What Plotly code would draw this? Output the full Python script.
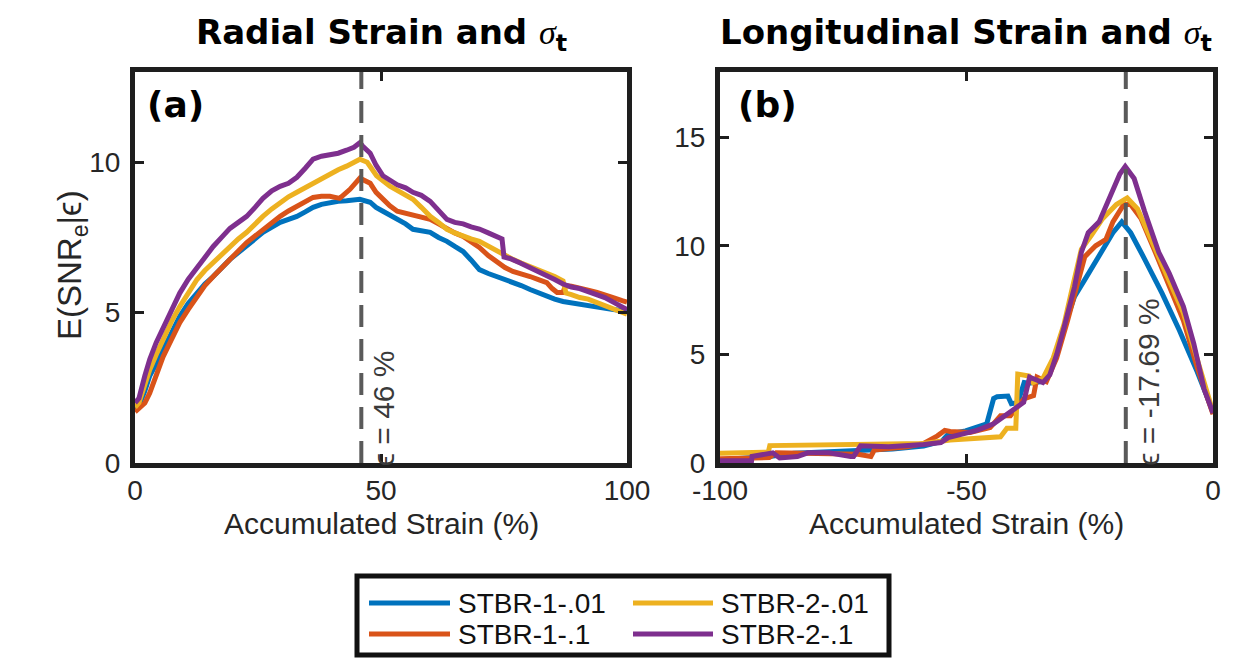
import plotly.graph_objects as go

# ---------------- data ----------------
series_names = ["STBR-1-.01", "STBR-1-.1", "STBR-2-.01", "STBR-2-.1"]
series_colors = ["#0072BD", "#D95319", "#EDB120", "#7E2F8E"]

# Panel (a): radial strain
rad_x_b1 = [0, 0.8, 2, 3, 4.3, 5.7, 7.4, 9.1, 10.8, 12.6, 14.2, 15.9, 17.6, 19.3, 21, 22.7, 24.4, 26, 27.8, 29.5,
            31.2, 32.9, 34.6, 36.2, 37.9, 39.6, 41.3, 43, 44.5, 45.7, 47.8, 49, 50.4, 51.8, 53.3, 55, 56.5, 58.2, 60,
            61.7, 63.4, 65, 66.7, 68.3, 70, 71.8, 73.6, 75.2, 76.8, 78.5, 80.3, 82, 83.7, 85.3, 87, 88.7, 90.4, 92.1,
            93.9, 95.5, 97.2, 99, 100]
rad_y_b1 = [1.8, 1.9, 2.4, 2.9, 3.3, 3.77, 4.35, 4.88, 5.3, 5.67, 5.95, 6.2, 6.5, 6.77, 7.0, 7.2, 7.45, 7.67, 7.85, 8.0,
            8.1, 8.2, 8.35, 8.5, 8.6, 8.67, 8.7, 8.72, 8.75, 8.77, 8.67, 8.5, 8.37, 8.25, 8.1, 7.95, 7.77, 7.72, 7.67,
            7.5, 7.37, 7.2, 7.03, 6.75, 6.43, 6.3, 6.2, 6.1, 6.03, 5.9, 5.77, 5.65, 5.53, 5.45, 5.37, 5.32, 5.27, 5.22,
            5.17, 5.13, 5.1, 5.07, 5.05]

rad_x_b2 = [0, 0.8, 2, 3, 4.3, 5.7, 7.4, 9.1, 10.8, 12.6, 14.2, 15.9, 17.6, 19.3, 21, 22.7, 24.4, 26, 27.8, 29.5,
            31.2, 32.9, 34.6, 36.2, 37.9, 39.6, 41.6, 43.7, 45.7, 47.8, 49, 50.4, 51.8, 53.3, 55, 56.5, 58.2, 60,
            61.7, 63.4, 65, 66.7, 68.3, 70, 71.8, 73.6, 75.2, 76.8, 78.5, 80.3, 82, 83.7, 84.8, 85.8, 87, 87.5, 88.7,
            90.4, 92.1, 93.9, 95.5, 97.2, 99, 100]
rad_y_b2 = [1.7, 1.8, 2.0, 2.33, 2.95, 3.53, 4.1, 4.67, 5.1, 5.53, 5.9, 6.2, 6.5, 6.77, 7.05, 7.33, 7.55, 7.77, 8.0, 8.2,
            8.38, 8.53, 8.7, 8.83, 8.87, 8.87, 8.8, 9.1, 9.47, 9.3, 9.0, 8.77, 8.55, 8.37, 8.3, 8.27, 8.2, 8.1,
            7.95, 7.77, 7.65, 7.53, 7.35, 7.17, 6.9, 6.67, 6.5, 6.37, 6.3, 6.2, 6.1, 6.0, 5.8, 5.67, 5.67, 5.9, 5.88,
            5.83, 5.75, 5.67, 5.6, 5.5, 5.4, 5.35]

rad_x_c1 = [0, 0.8, 2, 3, 4.3, 5.7, 7.4, 9.1, 10.8, 12.6, 14.2, 15.9, 17.6, 19.3, 21, 22.7, 24.4, 26, 27.8, 29.5,
            31.2, 32.9, 34.6, 36.2, 37.9, 39.6, 41.3, 43, 44.5, 45.7, 47.2, 49.1, 51.8, 54, 56.5, 58.2, 60, 61.7,
            63.4, 65, 66.7, 68.3, 70, 71.8, 73.6, 75.2, 76.8, 78.5, 80.3, 82, 83.7, 85.3, 87, 87.6, 88.7, 90.4, 92.1,
            93.9, 95.5, 97.2, 99, 100]
rad_y_c1 = [1.85, 2.0, 2.6, 3.1, 3.6, 4.1, 4.7, 5.2, 5.65, 6.1, 6.4, 6.67, 6.95, 7.2, 7.45, 7.67, 7.95, 8.2, 8.45, 8.67,
            8.85, 9.0, 9.15, 9.33, 9.45, 9.6, 9.75, 9.87, 10.0, 10.1, 10.0, 9.55, 9.2, 9.0, 8.77, 8.5, 8.2, 8.0,
            7.77, 7.65, 7.53, 7.45, 7.37, 7.2, 7.03, 6.9, 6.77, 6.65, 6.53, 6.45, 6.33, 6.2, 6.05, 5.65, 5.6, 5.5, 5.45,
            5.33, 5.25, 5.1, 5.0, 4.95]

rad_x_c2 = [0, 0.8, 2, 3, 4.3, 5.7, 7.4, 9.1, 10.8, 12.6, 14.2, 15.9, 17.6, 19.3, 21, 22.7, 24.4, 26, 27.8, 29.5,
            31.2, 32.9, 34.6, 36.2, 37.9, 39.6, 41.3, 43, 44.5, 45.7, 46.2, 47.8, 49, 50.4, 51.8, 53.3, 55, 56.5,
            58.2, 60, 61.7, 63.4, 65, 66.7, 68.3, 70, 71.8, 73.6, 74.6, 75.0, 76.2, 78.3, 80.3, 82, 83.7, 85.3, 87,
            88.7, 90.4, 92.1, 93.9, 95.5, 97.2, 99, 100]
rad_y_c2 = [2.0, 2.15, 2.9, 3.45, 4.0, 4.5, 5.1, 5.65, 6.1, 6.5, 6.85, 7.2, 7.5, 7.8, 8.0, 8.2, 8.5, 8.8, 9.05, 9.2,
            9.3, 9.5, 9.8, 10.1, 10.2, 10.25, 10.3, 10.4, 10.5, 10.65, 10.55, 10.3, 9.9, 9.55, 9.4, 9.25, 9.15, 9.0,
            8.9, 8.7, 8.4, 8.1, 8.0, 7.95, 7.85, 7.78, 7.65, 7.5, 7.45, 6.85, 6.8, 6.65, 6.5, 6.35, 6.2, 6.1, 5.95,
            5.85, 5.8, 5.7, 5.6, 5.5, 5.35, 5.2, 5.1]

# Panel (b): longitudinal strain
lon_x_b1 = [-100, -90, -85, -73, -65, -58.7, -55, -53.7, -50.2, -45.9, -44.5, -43.8, -41.6, -40.9, -39.6, -38.3,
            -37.4, -34.5, -32.4, -30.2, -28.1, -26, -23.1, -20.3, -18.5, -16.7, -13.9, -10.3, -6.8, -3.2, 0]
lon_y_b1 = [0.15, 0.3, 0.45, 0.55, 0.65, 0.78, 1.0, 1.33, 1.48, 1.8, 2.97, 3.05, 3.08, 2.73, 2.78, 3.7,
            3.67, 3.75, 4.69, 6.25, 7.66, 8.44, 9.53, 10.6, 11.1, 10.6, 9.4, 7.8, 6.1, 4.2, 2.35]

lon_x_b2 = [-100, -90, -88.6, -80, -72, -69.4, -68.7, -62, -58.7, -55.9, -54.4, -53.3, -49.3, -45.2, -43.1, -41.1,
            -38.4, -36.4, -35.7, -33.8, -31.7, -29.5, -28.1, -26, -23.8, -21.7, -20.3, -18.1, -16.7, -14.6, -11.7,
            -8.9, -6, -3.2, 0]
lon_y_b2 = [0.2, 0.25, 0.47, 0.45, 0.4, 0.3, 0.6, 0.75, 0.9, 1.25, 1.5, 1.45, 1.4, 1.63, 2.17, 2.17,
            2.95, 3.1, 3.95, 3.75, 4.84, 6.56, 7.8, 9.5, 10.0, 10.3, 11.1, 11.9, 11.9, 11.25, 9.7,
            8.1, 6.56, 4.4, 2.25]

lon_x_c1 = [-100, -90.2, -89.9, -80, -72.3, -65, -58.7, -53.3, -48, -43.1, -41.8, -40, -39.6, -37.3, -36.5, -34.5,
            -32.4, -30.2, -28.8, -26.7, -24.6, -22.4, -19.6, -17.4, -15.3, -12.5, -8.9, -6, -3.2, 0]
lon_y_c1 = [0.45, 0.5, 0.8, 0.84, 0.84, 0.87, 0.9, 1.06, 1.15, 1.21, 1.6, 1.6, 4.09, 4.0, 3.7, 3.9,
            4.84, 6.4, 7.8, 9.84, 10.5, 11.25, 11.9, 12.2, 11.7, 10.2, 8.4, 6.9, 4.7, 2.35]

lon_x_c2 = [-100, -93.6, -93.5, -90, -89.3, -87.9, -84.3, -82.2, -77.9, -73.5, -72.9, -71.5, -65.8, -58.7, -55.2,
            -53.7, -51.3, -47.9, -44.5, -42.5, -39.8, -38.4, -37.8, -37.2, -35.9, -34.5, -33.1, -31.7, -30.2, -28.1,
            -26.7, -25.3, -23.1, -21, -18.9, -17.8, -16, -13.9, -11, -8.9, -6, -3.9, -1.8, 0]
lon_y_c2 = [0.1, 0.1, 0.3, 0.4, 0.47, 0.23, 0.3, 0.47, 0.47, 0.3, 0.3, 0.79, 0.75, 0.85, 0.94,
            1.17, 1.33, 1.5, 1.8, 2.1, 2.57, 2.8, 3.5, 3.95, 3.83, 3.7, 4.06, 5.0, 6.25, 8.1,
            9.7, 10.6, 11.1, 12.2, 13.3, 13.65, 13.1, 11.6, 9.7, 8.75, 7.2, 5.5, 3.4, 2.3]

rad_series_x = [rad_x_b1, rad_x_b2, rad_x_c1, rad_x_c2]
rad_series_y = [rad_y_b1, rad_y_b2, rad_y_c1, rad_y_c2]
lon_series_x = [lon_x_b1, lon_x_b2, lon_x_c1, lon_x_c2]
lon_series_y = [lon_y_b1, lon_y_b2, lon_y_c1, lon_y_c2]

peak_rad = 46
peak_lon = -17.69

rad_xticks = [0, 50, 100]
rad_yticks = [0, 5, 10]
lon_xticks = [-100, -50, 0]
lon_xticklabels = ["-100", "-50", "0"]
lon_yticks = [0, 5, 10, 15]

titles = ["Radial Strain and ", "Longitudinal Strain and "]
panel_labels = ["(a)", "(b)"]
x_title = "Accumulated Strain (%)"
y_title = "E(SNR<sub>e</sub>|ϵ)"

# ---------------- figure ----------------
W, H = 1246, 660
def px(v):
    return v / W
def py(v):
    return 1 - v / H

FONT = "Liberation Sans, Arial, sans-serif"
INK = "#262626"

fig = go.Figure()
for i in range(4):
    fig.add_trace(go.Scatter(x=rad_series_x[i], y=rad_series_y[i], mode="lines", name=series_names[i],
                             line=dict(color=series_colors[i], width=5), showlegend=False,
                             xaxis="x", yaxis="y"))
for i in range(4):
    fig.add_trace(go.Scatter(x=lon_series_x[i], y=lon_series_y[i], mode="lines", name=series_names[i],
                             line=dict(color=series_colors[i], width=5), showlegend=False,
                             xaxis="x2", yaxis="y2"))

axis_style = dict(showline=True, linewidth=5, linecolor="#1e1e1e", mirror="ticks", ticks="inside",
                  ticklen=9, tickwidth=3, tickcolor="#1e1e1e", showgrid=False, zeroline=False,
                  automargin=False,
                  tickfont=dict(family=FONT, size=28, color=INK))

ydom = [py(463), py(72)]
fig.update_layout(
    template="none",
    width=W, height=H, margin=dict(l=0, r=0, t=0, b=0, pad=0, autoexpand=False),
    paper_bgcolor="white", plot_bgcolor="white", showlegend=False,
    xaxis=dict(domain=[px(135), px(627)], range=[0, 100], tickvals=rad_xticks, anchor="y",
               ticklabelstandoff=-2, **axis_style),
    yaxis=dict(domain=ydom, range=[0, 13], tickvals=rad_yticks, anchor="x",
               ticklabelstandoff=4, **axis_style),
    xaxis2=dict(domain=[px(720), px(1213)], range=[-100, 0], tickvals=lon_xticks, ticktext=lon_xticklabels,
                anchor="y2", ticklabelstandoff=-2, **axis_style),
    yaxis2=dict(domain=ydom, range=[0, 18], tickvals=lon_yticks, anchor="x2",
                ticklabelstandoff=4, **axis_style),
)

# dashed peak lines
dash_line = dict(color="#5a5a5a", width=4, dash="22px,12px")
fig.add_shape(type="line", xref="x", yref="y", x0=peak_rad, x1=peak_rad, y0=0, y1=13, line=dash_line)
fig.add_shape(type="line", xref="x2", yref="y2", x0=peak_lon, x1=peak_lon, y0=0, y1=18, line=dash_line)

ann = []
eps_font = dict(family=FONT, size=30, color="#3a3a3a")
ann.append(dict(text="ϵ = %g %%" % peak_rad, xref="x", yref="y", x=peak_rad, y=0, xshift=22, yshift=-5,
                xanchor="center", yanchor="bottom", textangle=-90, showarrow=False, font=eps_font))
ann.append(dict(text="ϵ = %g %%" % peak_lon, xref="x2", yref="y2", x=peak_lon, y=0, xshift=22, yshift=-5,
                xanchor="center", yanchor="bottom", textangle=-90, showarrow=False, font=eps_font))

# titles
title_font = dict(family="DejaVu Sans, sans-serif", size=34, color="#000000")
for t, cx in zip(titles, [381, 966]):
    ann.append(dict(text="<b>" + t + "</b><span style='font-family:Liberation Serif'><i>σ</i></span><sub><b>t</b></sub>",
                    xref="paper", yref="paper", x=px(cx), y=py(34), xanchor="center", yanchor="middle",
                    showarrow=False, font=title_font))

# panel labels
lab_font = dict(family="DejaVu Sans, sans-serif", size=36, color="#000000")
for lab, lx in zip(panel_labels, [145, 736]):
    ann.append(dict(text="<b>" + lab + "</b>", xref="paper", yref="paper", x=px(lx), y=py(104),
                    xanchor="left", yanchor="middle", showarrow=False, font=lab_font))

# axis titles
ax_font = dict(family=FONT, size=30, color=INK)
for cx in [381, 966]:
    ann.append(dict(text=x_title, xref="paper", yref="paper", x=px(cx), y=py(523), xanchor="center",
                    yanchor="middle", showarrow=False, font=ax_font))
ann.append(dict(text=y_title, xref="paper", yref="paper", x=px(72), y=py(265), xanchor="center",
                yanchor="middle", textangle=-90, showarrow=False, font=dict(family=FONT, size=33, color=INK)))

# custom legend (box, swatches, labels)
fig.add_shape(type="rect", xref="paper", yref="paper", x0=px(357), x1=px(889), y0=py(655), y1=py(576),
              line=dict(color="#111111", width=5), fillcolor="white")
legend_order = [0, 2, 1, 3]  # row-major: STBR-1-.01, STBR-2-.01 / STBR-1-.1, STBR-2-.1
col_x = [(369, 450, 456), (633, 713, 719)]
row_y = [603, 634]
leg_font = dict(family=FONT, size=28, color="#111111")
for k, si in enumerate(legend_order):
    r, c = divmod(k, 2)
    x0, x1, tx = col_x[c]
    yy = row_y[r]
    fig.add_shape(type="line", xref="paper", yref="paper", x0=px(x0), x1=px(x1), y0=py(yy), y1=py(yy),
                  line=dict(color=series_colors[si], width=5))
    ann.append(dict(text=series_names[si], xref="paper", yref="paper", x=px(tx), y=py(yy), xanchor="left",
                    yanchor="middle", showarrow=False, font=leg_font))

fig.update_layout(annotations=ann)
fig.write_html("out.html")
